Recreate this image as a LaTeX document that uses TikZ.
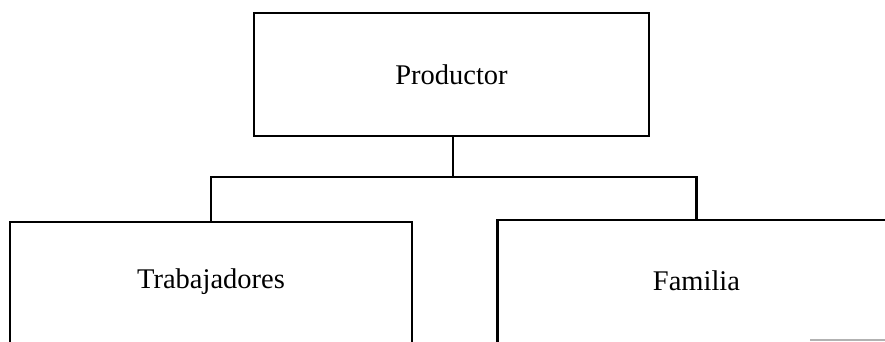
\documentclass[tikz,border=0pt]{standalone}
\usepackage{fontspec}
\setmainfont{Liberation Serif}
\begin{document}
\begin{tikzpicture}[x=1pt,y=-1pt,
  box/.style={draw, line width=2.5pt, inner sep=0pt, font=\fontsize{28.5}{34}\selectfont},
  link/.style={line width=2.5pt}]
\useasboundingbox (0,0) rectangle (885,341);
\node[box, minimum width=395pt, minimum height=123pt] (prod) at (451.5,74.5) {Productor};
\node[box, minimum width=402pt, minimum height=128pt, text height=19pt, text depth=15pt] (trab) at (211,286) {Trabajadores};
\node[box, minimum width=398pt, minimum height=130pt, text height=19pt, text depth=9pt] (fam) at (696.5,285) {Familia};
\coordinate (bar) at (453,177);
\draw[link] (bar |- prod.south) -- (bar);
\draw[link] (trab.north) |- (bar) -| (fam.north);
\draw[gray!60, line width=1.5pt] (810,340) -- (885,340);
\end{tikzpicture}
\end{document}
